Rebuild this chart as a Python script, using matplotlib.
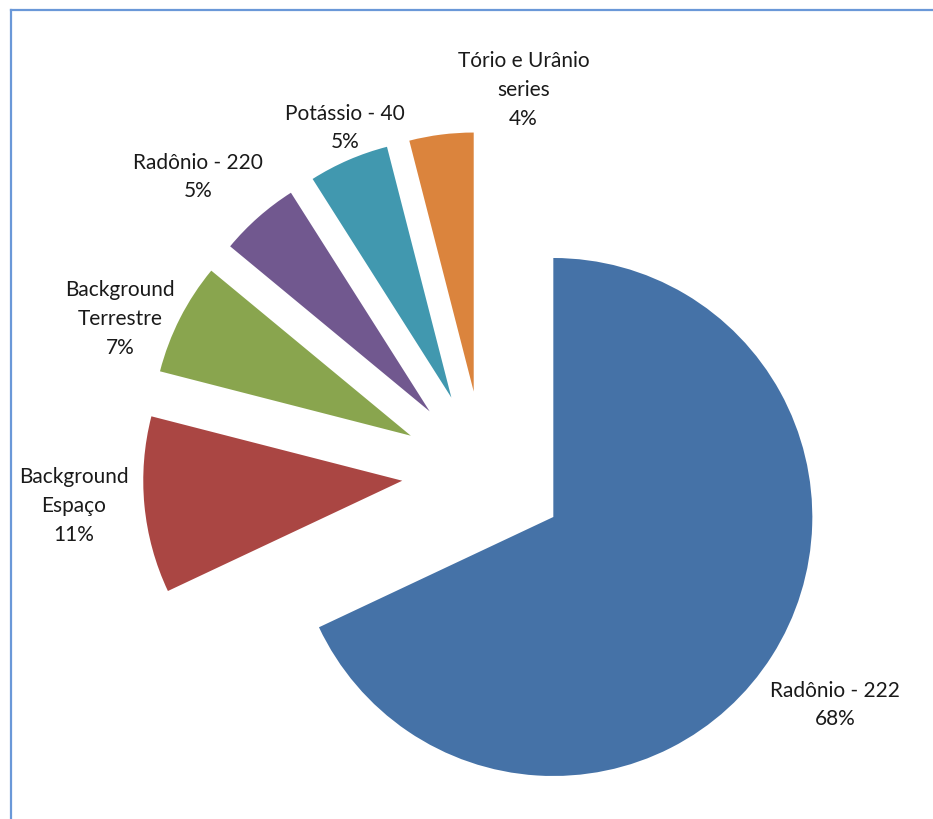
import matplotlib
matplotlib.use('Agg')
import matplotlib.pyplot as plt
from matplotlib.lines import Line2D

# dados do gráfico
categorias = ['Radônio - 222', 'Background\nEspaço', 'Background\nTerrestre',
              'Radônio - 220', 'Potássio - 40', 'Tório e Urânio\nseries']
percentuais = [68, 11, 7, 5, 5, 4]
cores = ['#4572A7', '#AA4643', '#89A54E', '#71588F', '#4198AF', '#DB843D']

# posição de cada rótulo (unidades do raio, centro da pizza na origem)
pos_rotulos = [(1.355, -0.896), (-1.585, -0.127), (-1.405, 0.595),
               (-1.104, 1.143), (-0.537, 1.332), (0.153, 1.479)]

W, H = 933, 819
escala = 259.0          # pixels por unidade de raio
cx, cy = 484.0, 473.0   # centro da pizza em pixels

fig = plt.figure(figsize=(W / 100, H / 100), dpi=100)
ax = fig.add_axes([0, 0, 1, 1])

ax.pie(percentuais, colors=cores, startangle=90, counterclock=False,
       explode=[0.317] * len(percentuais), radius=1.0,
       wedgeprops=dict(linewidth=0), frame=True)
ax.set_xlim(-cx / escala, (W - cx) / escala)
ax.set_ylim(-(H - cy) / escala, cy / escala)
ax.set_aspect('auto')
ax.axis('off')

for nome, pct, (x, y) in zip(categorias, percentuais, pos_rotulos):
    ax.text(x, y, f'{nome}\n{pct}%', ha='center', va='center',
            fontsize=15, family='Lato', color='#1a1a1a', linespacing=1.55)

# moldura da área do gráfico
for xs, ys in [([10.5, 10.5], [0, H - 10]), ([10.5, W], [H - 10, H - 10])]:
    fig.add_artist(Line2D(xs, ys, transform=None, color='#6A98D8', linewidth=1.6))

fig.savefig('out.png', dpi=100)
